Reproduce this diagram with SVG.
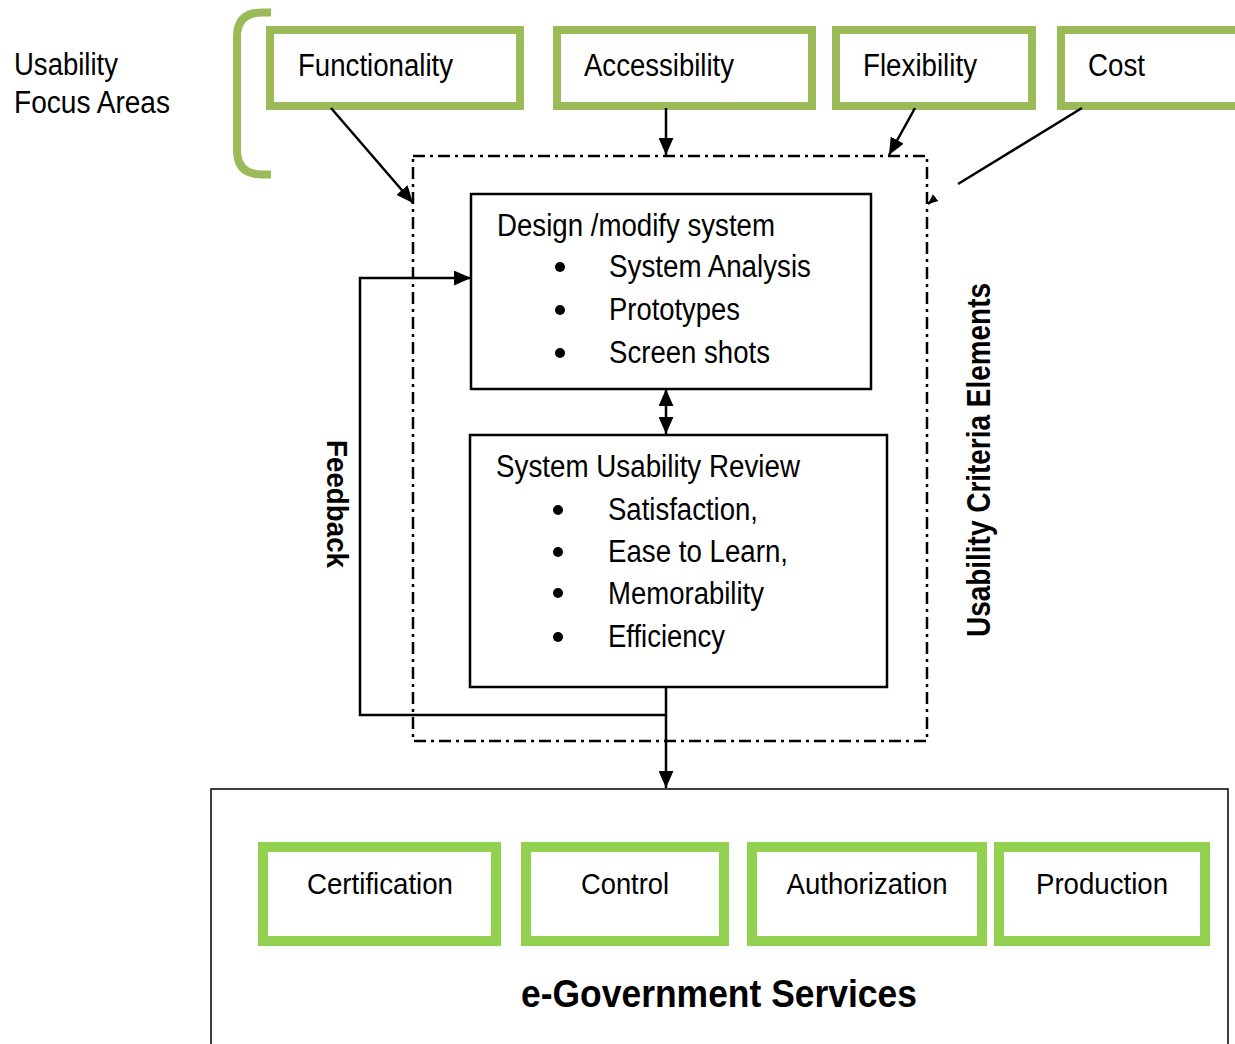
<svg xmlns="http://www.w3.org/2000/svg" width="1235" height="1044" viewBox="0 0 1235 1044">
<defs>
<style>
text{font-family:"Liberation Sans",Arial,sans-serif;fill:#000}
.t{font-size:31px}
.s{font-size:30px}
.b{font-weight:bold}
.g1{fill:#fff;stroke:#9BBB59;stroke-width:8}
.g2{fill:#fff;stroke:#92D050;stroke-width:10}
.box{fill:#fff;stroke:#000;stroke-width:2.5}
.ln{fill:none;stroke:#000;stroke-width:2.5}
.dd{fill:none;stroke:#000;stroke-width:2.5;stroke-dasharray:12 5 3 5}
</style>
<marker id="ah" markerUnits="userSpaceOnUse" markerWidth="17" markerHeight="15" refX="16" refY="7" orient="auto-start-reverse" viewBox="0 0 16 14">
<path d="M0,0 L16,7 L0,14 z" fill="#000"/>
</marker>
<marker id="ahs" markerUnits="userSpaceOnUse" markerWidth="10" markerHeight="10" refX="9" refY="4" orient="auto" viewBox="0 0 9 8">
<path d="M0,0 L9,4 L0,8 z" fill="#000"/>
</marker>
</defs>
<rect width="1235" height="1044" fill="#fff"/>

<g id="label-focus">
<text class="t" x="14" y="75" textLength="104" lengthAdjust="spacingAndGlyphs">Usability</text>
<text class="t" x="14" y="113" textLength="156" lengthAdjust="spacingAndGlyphs">Focus Areas</text>
</g>
<g id="bracket">
<path d="M271,12.5 L262,12.5 Q237,12.5 237,37 L237,150 Q237,174.5 262,174.5 L271,174.5" fill="none" stroke="#9BBB59" stroke-width="8"/>
</g>

<g id="criteria-box">
<rect class="dd" x="413" y="156" width="514" height="585"/>
</g>

<g id="egov">
<rect x="211" y="789" width="1017" height="270" fill="#fff" stroke="#000" stroke-width="1.5"/>
<text class="b" x="719" y="1007" font-size="38" text-anchor="middle" textLength="396" lengthAdjust="spacingAndGlyphs">e-Government Services</text>
</g>

<g id="functionality">
<rect class="g1" x="270" y="30" width="250" height="76"/>
<text class="t" x="298" y="76" textLength="155" lengthAdjust="spacingAndGlyphs">Functionality</text>
</g>
<g id="accessibility">
<rect class="g1" x="557" y="30" width="255" height="76"/>
<text class="t" x="584" y="76" textLength="150" lengthAdjust="spacingAndGlyphs">Accessibility</text>
</g>
<g id="flexibility">
<rect class="g1" x="836" y="30" width="196" height="76"/>
<text class="t" x="863" y="76" textLength="114" lengthAdjust="spacingAndGlyphs">Flexibility</text>
</g>
<g id="cost">
<rect class="g1" x="1061" y="30" width="190" height="76"/>
<text class="t" x="1088" y="76" textLength="57" lengthAdjust="spacingAndGlyphs">Cost</text>
</g>

<g id="design">
<rect class="box" x="471" y="194" width="400" height="195"/>
<text class="t" x="497" y="236" textLength="278" lengthAdjust="spacingAndGlyphs">Design /modify system</text>
<circle cx="560" cy="267" r="5"/>
<circle cx="560" cy="310" r="5"/>
<circle cx="560" cy="353" r="5"/>
<text class="t" x="609" y="277" textLength="202" lengthAdjust="spacingAndGlyphs">System Analysis</text>
<text class="t" x="609" y="320" textLength="131" lengthAdjust="spacingAndGlyphs">Prototypes</text>
<text class="t" x="609" y="363" textLength="161" lengthAdjust="spacingAndGlyphs">Screen shots</text>
</g>

<g id="review">
<rect class="box" x="470" y="435" width="417" height="252"/>
<text class="t" x="496" y="477" textLength="304" lengthAdjust="spacingAndGlyphs">System Usability Review</text>
<circle cx="558" cy="510" r="5"/>
<circle cx="558" cy="552" r="5"/>
<circle cx="558" cy="593" r="5"/>
<circle cx="558" cy="637" r="5"/>
<text class="t" x="608" y="520" textLength="150" lengthAdjust="spacingAndGlyphs">Satisfaction,</text>
<text class="t" x="608" y="562" textLength="180" lengthAdjust="spacingAndGlyphs">Ease to Learn,</text>
<text class="t" x="608" y="604" textLength="156" lengthAdjust="spacingAndGlyphs">Memorability</text>
<text class="t" x="608" y="647" textLength="117" lengthAdjust="spacingAndGlyphs">Efficiency</text>
</g>

<g id="label-feedback">
<text class="b" font-size="29" transform="translate(327,440) rotate(90)" textLength="128" lengthAdjust="spacingAndGlyphs">Feedback</text>
</g>
<g id="label-criteria">
<text class="b" font-size="33" transform="translate(990,637) rotate(-90)" textLength="354" lengthAdjust="spacingAndGlyphs">Usability Criteria Elements</text>
</g>

<g id="certification">
<rect class="g2" x="263" y="847" width="233" height="94"/>
<text class="s" x="380" y="894" text-anchor="middle" textLength="146" lengthAdjust="spacingAndGlyphs">Certification</text>
</g>
<g id="control">
<rect class="g2" x="526" y="847" width="198" height="94"/>
<text class="s" x="625" y="894" text-anchor="middle" textLength="88" lengthAdjust="spacingAndGlyphs">Control</text>
</g>
<g id="authorization">
<rect class="g2" x="752" y="847" width="230" height="94"/>
<text class="s" x="867" y="894" text-anchor="middle" textLength="161" lengthAdjust="spacingAndGlyphs">Authorization</text>
</g>
<g id="production">
<rect class="g2" x="999" y="847" width="206" height="94"/>
<text class="s" x="1102" y="894" text-anchor="middle" textLength="132" lengthAdjust="spacingAndGlyphs">Production</text>
</g>

<g id="connectors">
<line class="ln" x1="331" y1="108" x2="413" y2="203" marker-end="url(#ah)"/>
<line class="ln" x1="666" y1="108" x2="666" y2="155" marker-end="url(#ah)"/>
<line class="ln" x1="915" y1="108" x2="889" y2="155" marker-end="url(#ah)"/>
<line class="ln" x1="1082" y1="108" x2="958" y2="184"/>
<line class="ln" x1="934" y1="199" x2="928" y2="204" marker-end="url(#ahs)"/>
<line class="ln" x1="666" y1="389" x2="666" y2="434" marker-start="url(#ah)" marker-end="url(#ah)"/>
<polyline class="ln" points="666,715 360,715 360,278 471,278" marker-end="url(#ah)"/>
<line class="ln" x1="666" y1="687" x2="666" y2="788" marker-end="url(#ah)"/>
</g>
</svg>
